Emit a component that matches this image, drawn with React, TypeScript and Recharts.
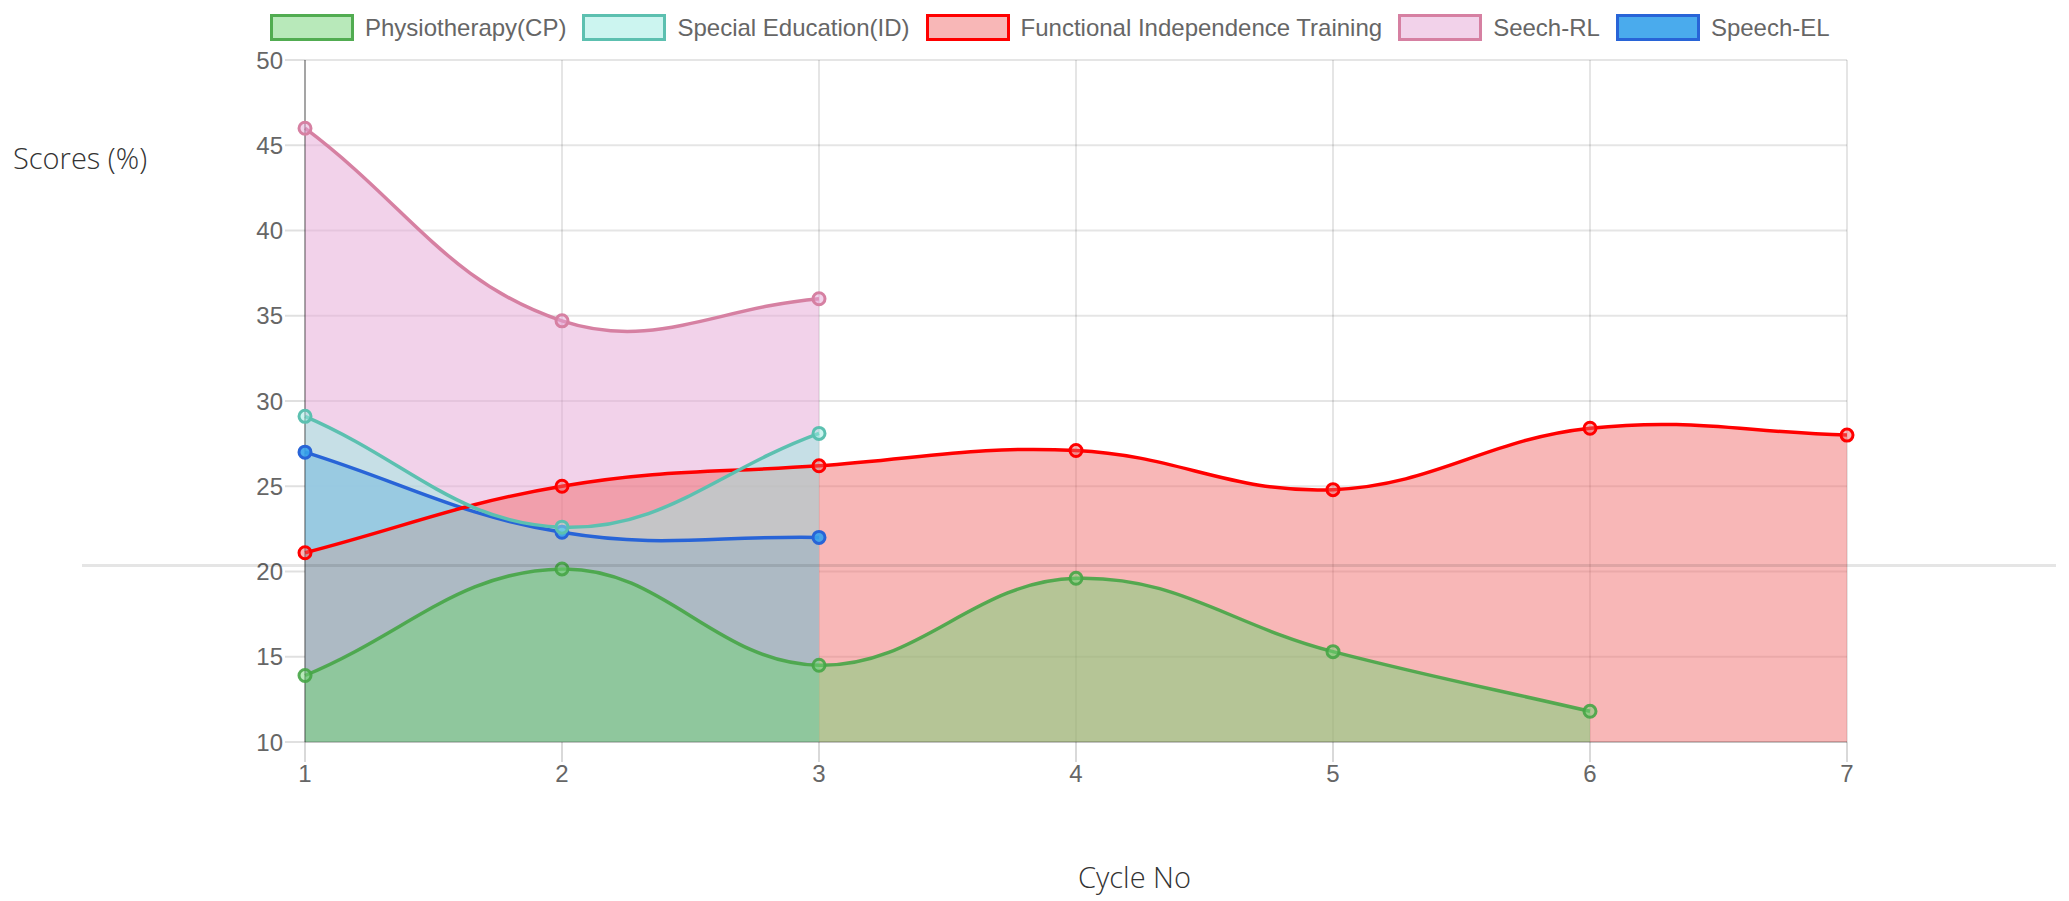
import React from 'react';
import { AreaChart, Area, XAxis, YAxis, CartesianGrid } from 'recharts';

// ---- data ----
const cycles = ['1', '2', '3', '4', '5', '6', '7'];
const physiotherapyCP = [13.9, 20.15, 14.5, 19.6, 15.3, 11.8, null];
const specialEducationID = [29.1, 22.6, 28.1, null, null, null, null];
const functionalIndependence = [21.1, 25.0, 26.2, 27.1, 24.8, 28.4, 28.0];
const seechRL = [46.0, 34.7, 36.0, null, null, null, null];
const speechEL = [27.0, 22.3, 22.0, null, null, null, null];
const yTicks = [10, 15, 20, 25, 30, 35, 40, 45, 50];
const legendLabels = [
  'Physiotherapy(CP)',
  'Special Education(ID)',
  'Functional Independence Training',
  'Seech-RL',
  'Speech-EL',
];

const rows = cycles.map((c, i) => ({
  cycle: c,
  physio: physiotherapyCP[i],
  special: specialEducationID[i],
  fit: functionalIndependence[i],
  srl: seechRL[i],
  sel: speechEL[i],
}));

// styles per series (legend order)
const styles = [
  { key: 'physio', stroke: 'rgba(70,165,70,0.9)', fill: 'rgba(114,212,118,0.5)' },
  { key: 'special', stroke: 'rgb(92,192,176)', fill: 'rgba(153,235,225,0.5)' },
  { key: 'fit', stroke: '#ff0000', fill: 'rgba(240,103,103,0.47)' },
  { key: 'srl', stroke: 'rgb(214,128,162)', fill: 'rgba(229,165,213,0.5)' },
  { key: 'sel', stroke: 'rgb(40,100,215)', fill: 'rgba(54,162,235,0.9)' },
];

// Chart.js-like spline (tension 0.4) as a d3 curve factory
function chartJsCurve(context: any) {
  let pts: number[][] = [];
  let line = NaN;
  const t = 0.4;
  return {
    areaStart() { line = 0; },
    areaEnd() { line = NaN; },
    lineStart() { pts = []; },
    point(x: number, y: number) { pts.push([+x, +y]); },
    lineEnd() {
      const n = pts.length;
      if (n) {
        if (line) context.lineTo(pts[0][0], pts[0][1]);
        else context.moveTo(pts[0][0], pts[0][1]);
        const prevCP: number[][] = [];
        const nextCP: number[][] = [];
        for (let i = 0; i < n; i++) {
          const p = i > 0 ? pts[i - 1] : pts[i];
          const c = pts[i];
          const nx = i < n - 1 ? pts[i + 1] : pts[i];
          const d01 = Math.hypot(c[0] - p[0], c[1] - p[1]);
          const d12 = Math.hypot(nx[0] - c[0], nx[1] - c[1]);
          let s01 = d01 / (d01 + d12);
          let s12 = d12 / (d01 + d12);
          if (!isFinite(s01)) s01 = 0;
          if (!isFinite(s12)) s12 = 0;
          const fa = t * s01;
          const fb = t * s12;
          prevCP.push([c[0] - fa * (nx[0] - p[0]), c[1] - fa * (nx[1] - p[1])]);
          nextCP.push([c[0] + fb * (nx[0] - p[0]), c[1] + fb * (nx[1] - p[1])]);
        }
        for (let i = 0; i < n - 1; i++) {
          context.bezierCurveTo(
            nextCP[i][0], nextCP[i][1],
            prevCP[i + 1][0], prevCP[i + 1][1],
            pts[i + 1][0], pts[i + 1][1]
          );
        }
      }
      if (line || (line !== 0 && n === 1)) context.closePath();
      line = 1 - line;
    },
  };
}

const tickFont = { fontFamily: "'Liberation Sans', Arial, sans-serif", fontSize: 24, fill: '#666' };
const drawOrder = [4, 3, 2, 1, 0];

export default function App() {
  return (
    <div style={{ position: 'absolute', left: 0, top: 0, width: 2060, height: 900, background: '#fff' }}>
      <div style={{ position: 'absolute', left: 0, top: 0 }}>
        <AreaChart
          width={2000}
          height={900}
          data={rows}
          margin={{ top: 60, right: 153, bottom: 0, left: 0 }}
        >
          <CartesianGrid stroke="rgba(0,0,0,0.1)" strokeWidth={2} />
          <XAxis
            dataKey="cycle"
            height={158}
            tickSize={20}
            tickMargin={3}
            tick={tickFont}
            tickLine={{ stroke: 'rgba(0,0,0,0.15)', strokeWidth: 2 }}
            axisLine={{ stroke: 'rgba(0,0,0,0.15)', strokeWidth: 2 }}
            interval={0}
          />
          <YAxis
            type="number"
            domain={[10, 50]}
            ticks={yTicks}
            width={305}
            tickSize={20}
            tickMargin={2}
            tick={tickFont}
            tickLine={{ stroke: 'rgba(0,0,0,0.12)', strokeWidth: 2 }}
            axisLine={{ stroke: 'rgba(0,0,0,0.28)', strokeWidth: 2 }}
            allowDataOverflow
          />
          {/* fills first (as Chart.js filler plugin does) */}
          {drawOrder.map((idx) => {
            const s = styles[idx];
            return (
              <Area
                key={'fill-' + s.key}
                dataKey={s.key}
                name={legendLabels[idx]}
                type={chartJsCurve as any}
                stroke="none"
                fill={s.fill}
                fillOpacity={1}
                dot={false}
                activeDot={false}
                isAnimationActive={false}
              />
            );
          })}
          {/* then lines and points on top */}
          {drawOrder.map((idx) => {
            const s = styles[idx];
            return (
              <Area
                key={'line-' + s.key}
                dataKey={s.key}
                name={legendLabels[idx] + ' line'}
                type={chartJsCurve as any}
                stroke={s.stroke}
                strokeWidth={3.5}
                fill="none"
                fillOpacity={0}
                dot={{ r: 6, strokeWidth: 3, stroke: s.stroke, fill: s.fill, fillOpacity: 1 }}
                activeDot={false}
                isAnimationActive={false}
              />
            );
          })}
        </AreaChart>
      </div>

      {/* legend */}
      <div
        style={{
          position: 'absolute',
          left: 270,
          top: 14,
          display: 'flex',
          alignItems: 'center',
          fontFamily: "'Liberation Sans', Arial, sans-serif",
          fontSize: 24,
          color: '#666',
          whiteSpace: 'nowrap',
        }}
      >
        {legendLabels.map((label, i) => (
          <div key={label} style={{ display: 'flex', alignItems: 'center', marginRight: 16 }}>
            <div
              style={{
                width: 78,
                height: 21,
                border: `3px solid ${styles[i].stroke}`,
                background: styles[i].fill,
                marginRight: 11,
              }}
            />
            <span style={{ lineHeight: '27px' }}>{label}</span>
          </div>
        ))}
      </div>

      {/* axis titles */}
      <div
        style={{
          position: 'absolute',
          left: 13,
          top: 138,
          lineHeight: '40px',
          fontFamily: "'Open Sans', sans-serif",
          fontWeight: 300,
          fontSize: 29,
          color: '#333',
          whiteSpace: 'nowrap',
        }}
      >
        Scores (%)
      </div>
      <div
        style={{
          position: 'absolute',
          left: 1078,
          top: 857,
          lineHeight: '40px',
          fontFamily: "'Open Sans', sans-serif",
          fontWeight: 300,
          fontSize: 29,
          color: '#333',
          whiteSpace: 'nowrap',
        }}
      >
        Cycle No
      </div>

      {/* stray horizontal rule across the page */}
      <div
        style={{
          position: 'absolute',
          left: 82,
          top: 564,
          width: 1974,
          height: 3,
          background: 'rgba(0,0,0,0.1)',
        }}
      />
    </div>
  );
}
